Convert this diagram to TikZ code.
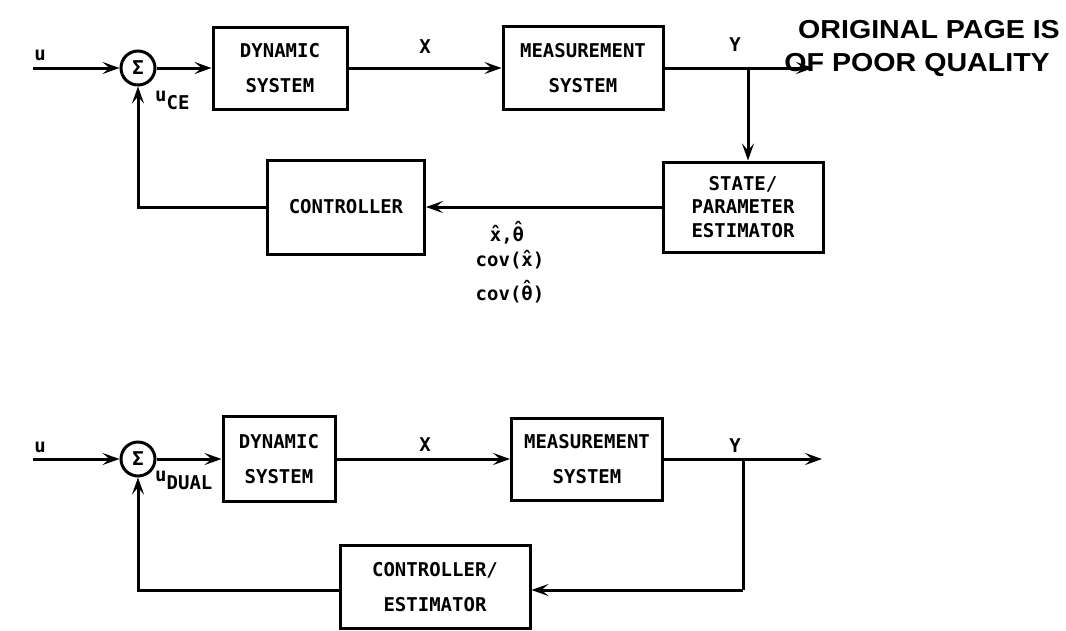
\documentclass[tikz,border=0pt]{standalone}
\usepackage{fontspec}
\newfontfamily\lettering{DejaVu Sans Mono}
\newfontfamily\stampfont[FakeStretch=1.1]{Liberation Sans}
\usetikzlibrary{arrows.meta,positioning,calc}
\newcommand\hatted[2]{\ooalign{#2\cr\hidewidth\raisebox{#1}{ˆ}\hidewidth\cr}}
\tikzset{
  blk/.style={draw,line width=3pt,align=center,inner sep=0pt,font=\lettering\bfseries\fontsize{19}{35}\selectfont},
  sum/.style={draw,circle,line width=3pt,minimum size=34pt,inner sep=0pt,font=\lettering\bfseries\fontsize{19}{20}\selectfont},
  sig/.style={inner sep=1pt,font=\lettering\bfseries\fontsize{19}{20}\selectfont},
  stamp/.style={inner sep=0pt,anchor=east,font=\stampfont\bfseries\fontsize{26}{30}\selectfont},
  arr/.style={line width=3pt,-{Stealth[length=17pt,width=12pt,inset=7pt]}},
  ln/.style={line width=3pt},
}

\begin{document}
\begin{tikzpicture}[x=1pt,y=-1pt]
 \useasboundingbox (0,0) rectangle (1066,630);
 % certainty equivalence loop
 \node[sum] (sum1) at (138,68) {Σ};
 \node[blk,minimum width=134pt,minimum height=82pt] (dyn1) at (280,68) {DYNAMIC\\SYSTEM};
 \node[blk,minimum width=160pt,minimum height=83pt] (meas1) at (583,68) {MEASUREMENT\\SYSTEM};
 \node[blk,minimum width=160pt,minimum height=90pt,font=\lettering\bfseries\fontsize{19}{23.5}\selectfont] (est1) at (743,207) {STATE/\\PARAMETER\\ESTIMATOR};
 \node[blk,minimum width=157pt,minimum height=94pt] (ctrl1) at (346,207) {CONTROLLER};
 \coordinate (in1) at (33,68);
 \coordinate (br1) at (748,68);
 \coordinate (out1) at (813,68);
 \node[sig] (u1) at (40,55) {u};
 \node[sig,anchor=west] (uce) at (154,100) {u\raisebox{-8pt}{CE}};
 \node[sig] (x1) at (425,47) {X};
 \node[sig] (y1) at (735,45) {Y};
 \node[sig] (est) at (507,236) {\hatted{1pt}{x},\hatted{5pt}{θ}};
 \node[sig] (covx) at (510,261) {cov(\hatted{1pt}{x})};
 \node[sig] (covt) at (510,294) {cov(\hatted{5pt}{θ})};
 \draw[arr] (in1) -- (sum1);
 \draw[arr] (sum1) -- (dyn1);
 \draw[arr] (dyn1) -- (meas1);
 \draw[arr] (meas1) -- (out1);
 \draw[arr] (br1) -- (br1 |- est1.north);
 \draw[arr] (est1) -- (ctrl1);
 \draw[arr] (ctrl1) -| (sum1);
 \node[stamp] (pq1) at (1060,30) {ORIGINAL PAGE IS};
 \node[stamp] (pq2) at (1050,65) {OF POOR QUALITY};
 % dual control loop
 \node[sum] (sum2) at (138,459) {Σ};
 \node[blk,minimum width=112pt,minimum height=85pt] (dyn2) at (279,459) {DYNAMIC\\SYSTEM};
 \node[blk,minimum width=151pt,minimum height=82pt] (meas2) at (587,459) {MEASUREMENT\\SYSTEM};
 \node[blk,minimum width=190pt,minimum height=83pt] (ce2) at (435,587) {CONTROLLER/\\ESTIMATOR};
 \coordinate (in2) at (33,459);
 \coordinate (br2) at (743,459);
 \coordinate (out2) at (822,459);
 \coordinate (ret2) at (743,590);
 \node[sig] (u2) at (40,447) {u};
 \node[sig,anchor=west] (udual) at (154,480) {u\raisebox{-8pt}{DUAL}};
 \node[sig] (x2) at (425,445) {X};
 \node[sig] (y2) at (735,446) {Y};
 \draw[arr] (in2) -- (sum2);
 \draw[arr] (sum2) -- (dyn2);
 \draw[arr] (dyn2) -- (meas2);
 \draw[arr] (meas2) -- (out2);
 \draw[ln] (br2) -- (ret2);
 \draw[arr] (ret2) -- (ce2.east |- ret2);
 \draw[arr] (ce2.west |- ret2) -| (sum2);
\end{tikzpicture}
\end{document}
